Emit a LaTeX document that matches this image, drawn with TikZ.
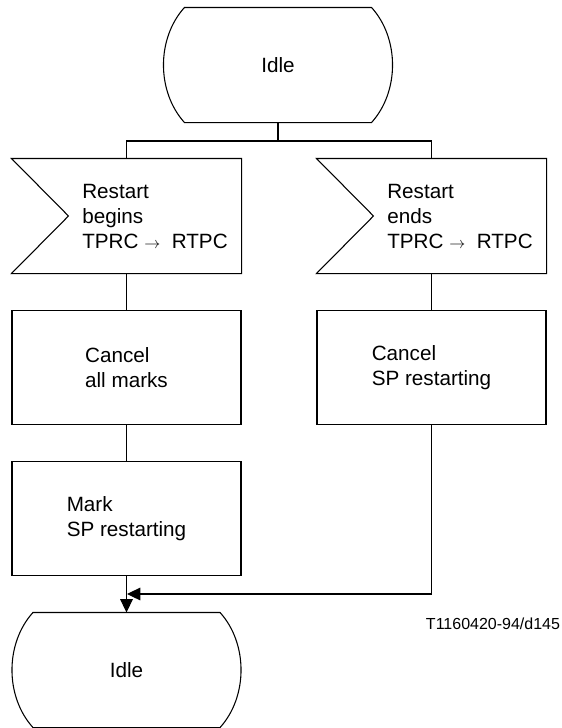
\documentclass[tikz,border=0pt]{standalone}
\usepackage{fontspec}
\setmainfont{Liberation Sans}
\usetikzlibrary{arrows.meta}

\newcommand{\sigarrow}{{\fontsize{12}{12}\selectfont$\rightarrow$}}

\begin{document}
\begin{tikzpicture}[x=0.75pt,y=-0.75pt,line width=0.8pt,
    font=\fontsize{15.5}{18.75}\selectfont,
    box/.style={draw,minimum width=171.75pt,minimum height=85pt,inner sep=0pt,align=left},
    sig/.style={minimum width=129pt,minimum height=85.5pt,inner sep=0pt,align=left},
    state/.style={minimum width=171pt,minimum height=85.5pt,inner sep=0pt},
    tip/.style={-{Triangle[length=10pt,width=9.5pt]}}]
  \useasboundingbox (0,0) rectangle (561,728);

  \node[state] (idleA)   at (278,65)      {Idle};
  \node[sig]   (begins)  at (155,216)     {Restart\\begins\\TPRC \sigarrow\ \ RTPC};
  \node[sig]   (ends)    at (460,216)     {Restart\\ends\\TPRC \sigarrow\ \ RTPC};
  \node[box]   (cancelA) at (126.5,367.5) {Cancel\\all marks};
  \node[box]   (cancelB) at (431.5,367.5) {Cancel\\SP restarting};
  \node[box]   (mark)    at (126.5,518.5) {Mark\\SP restarting};
  \node[state] (idleB)   at (126.5,670)   {Idle};
  \node[anchor=west,font=\fontsize{12}{14}\selectfont] (ref) at (421,624) {T1160420-94/d145};

  % state symbols
  \foreach \n in {idleA,idleB}
    \draw ([xshift=-15.75pt]\n.north east) -- ([xshift=15.75pt]\n.north west)
      .. controls +(-28,31) and +(-28,-31) .. ([xshift=15.75pt]\n.south west)
      -- ([xshift=-15.75pt]\n.south east)
      .. controls +(28,-31) and +(28,31) .. ([xshift=-15.75pt]\n.north east);
  % input symbols
  \foreach \n in {begins,ends}
    \draw ([xshift=-42.75pt]\n.north west) -- (\n.north east) -- (\n.south east)
      -- ([xshift=-42.75pt]\n.south west) -- (\n.west) -- cycle;

  \coordinate (split) at (278,141);
  \coordinate (merge) at (127,594);
  \draw[line width=1.3pt] (idleA) -- (split);
  \draw (split) -| (begins.north -| cancelA.north);
  \draw (split) -| (ends.north -| cancelB.north);
  \draw (begins.south -| cancelA.north) -- (cancelA);
  \draw (ends.south -| cancelB.north) -- (cancelB);
  \draw (cancelA) -- (mark);
  \draw[tip] (mark) -- (idleB);
  \draw[tip] (cancelB) |- (merge);
\end{tikzpicture}
\end{document}
